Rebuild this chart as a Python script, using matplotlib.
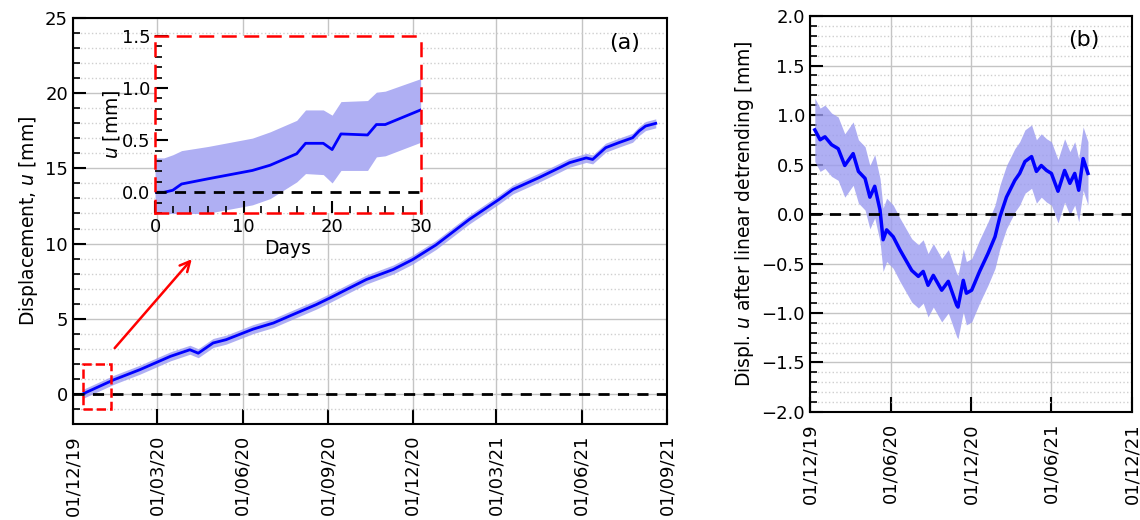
import numpy as np
import pandas as pd
import matplotlib
matplotlib.use('Agg')
import matplotlib.pyplot as plt
import matplotlib.dates as mdates
from matplotlib.patches import Rectangle
from matplotlib.ticker import MultipleLocator

############## data ########################################
# (a) cumulative displacement
a_dates = ['2019-12-12', '2020-01-14', '2020-02-11', '2020-03-15', '2020-04-05', '2020-04-14',
           '2020-04-30', '2020-05-14', '2020-06-12', '2020-07-04', '2020-07-25', '2020-08-19',
           '2020-09-03', '2020-09-24', '2020-10-12', '2020-11-10', '2020-12-01', '2020-12-26',
           '2021-01-31', '2021-03-04', '2021-03-19', '2021-04-16', '2021-05-08', '2021-05-19',
           '2021-06-06', '2021-06-13', '2021-06-27', '2021-07-11', '2021-07-26', '2021-08-02',
           '2021-08-09', '2021-08-20']
a_u = [0.0, 0.93, 1.6, 2.49, 2.93, 2.7, 3.38, 3.6, 4.3, 4.71, 5.27, 5.93, 6.38, 7.04, 7.6,
       8.27, 8.93, 9.9, 11.6, 12.93, 13.6, 14.38, 15.04, 15.38, 15.7, 15.6, 16.38, 16.71,
       17.04, 17.49, 17.82, 18.0]
a_err = [0.3] * len(a_u)

# inset: first 30 days
in_days = [0, 1, 2, 3, 6, 11, 13, 16, 17, 19, 20, 21, 24, 25, 26, 30]
in_u = [0.0, 0.0, 0.02, 0.08, 0.13, 0.21, 0.26, 0.37, 0.47, 0.47, 0.41, 0.56, 0.55, 0.65, 0.65, 0.79]
in_hi = [0.33, 0.33, 0.36, 0.40, 0.44, 0.52, 0.58, 0.69, 0.79, 0.79, 0.74, 0.87, 0.88, 0.96, 0.97, 1.09]
in_lo = [-0.30, -0.30, -0.28, -0.24, -0.20, -0.12, -0.06, 0.10, 0.18, 0.17, 0.09, 0.21, 0.21, 0.34, 0.35, 0.48]

# (b) after linear detrending
b_dates = ['2019-12-12', '2019-12-24', '2020-01-04', '2020-01-19', '2020-02-03', '2020-02-18',
           '2020-03-08', '2020-03-20', '2020-04-04', '2020-04-15', '2020-04-26', '2020-05-08',
           '2020-05-15', '2020-05-23', '2020-06-07', '2020-06-22', '2020-07-19', '2020-08-03',
           '2020-08-14', '2020-08-25', '2020-09-06', '2020-09-25', '2020-10-10', '2020-10-29',
           '2020-11-01', '2020-11-13', '2020-11-20', '2020-12-02', '2020-12-20', '2021-01-08',
           '2021-01-24', '2021-02-04', '2021-02-19', '2021-03-10', '2021-03-21', '2021-04-02',
           '2021-04-17', '2021-04-28', '2021-05-09', '2021-05-21', '2021-06-01', '2021-06-16',
           '2021-07-01', '2021-07-13', '2021-07-24', '2021-08-02', '2021-08-12', '2021-08-23']
b_u = [0.85, 0.75, 0.78, 0.70, 0.66, 0.49, 0.61, 0.43, 0.36, 0.17, 0.28, 0.04, -0.26, -0.16,
       -0.23, -0.36, -0.57, -0.63, -0.58, -0.72, -0.62, -0.77, -0.68, -0.92, -0.94, -0.67,
       -0.80, -0.77, -0.58, -0.40, -0.23, -0.03, 0.17, 0.34, 0.41, 0.53, 0.58, 0.43, 0.49,
       0.44, 0.41, 0.23, 0.44, 0.31, 0.41, 0.24, 0.56, 0.41]
b_err = [0.32] * len(b_u)

a_t = pd.to_datetime(a_dates)
b_t = pd.to_datetime(b_dates)
a_u = np.array(a_u); a_err = np.array(a_err)
b_u = np.array(b_u); b_err = np.array(b_err)

######################################################
plt.rcParams.update({'font.size': 13})
fig = plt.figure(figsize=(11.4, 5.2), dpi=100)
ax = fig.add_axes([0.064, 0.185, 0.521, 0.780])
bx = fig.add_axes([0.7105, 0.2077, 0.2825, 0.7615])

band = '#9b9bf0'


def style(a):
    for s in a.spines.values():
        s.set_linewidth(1.5)
    a.tick_params(which='major', direction='in', length=9, width=1.5, top=False, right=False)
    a.tick_params(which='minor', direction='in', length=5, width=1.2, top=False, right=False)
    a.tick_params(axis='x', which='major', length=11, labelrotation=90, pad=8)
    a.tick_params(axis='x', which='minor', length=0)
    a.grid(which='major', color='#c4c4c4', linestyle='-', linewidth=1.0)
    a.grid(which='minor', axis='y', color='#cfcfcf', linestyle=':', linewidth=1.0)
    a.set_axisbelow(True)


# ---------- (a)
style(ax)
ax.fill_between(a_t, a_u - a_err, a_u + a_err, color=band, alpha=0.8, lw=0)
ax.plot(a_t, a_u, color='blue', lw=2)
ax.axhline(0, color='black', ls='--', lw=2, dashes=(4, 3))
ax.set_xlim(pd.Timestamp('2019-12-01'), pd.Timestamp('2021-09-01'))
ax.set_ylim(-2, 25)
ax.yaxis.set_major_locator(MultipleLocator(5))
ax.yaxis.set_minor_locator(MultipleLocator(1))
ax.xaxis.set_major_locator(mdates.MonthLocator(bymonth=[3, 6, 9, 12]))
ax.xaxis.set_major_formatter(mdates.DateFormatter('%d/%m/%y'))
ax.set_ylabel('Displacement, $u$ [mm]', fontsize=13.5)
ax.text(0.955, 0.94, '(a)', transform=ax.transAxes, fontsize=16, ha='right', va='center')

t0 = a_t[0]
ax.add_patch(Rectangle((mdates.date2num(t0), -1), 30, 3, fill=False, edgecolor='red',
                       ls='--', lw=1.8, zorder=4))
ax.annotate('', xy=(pd.Timestamp('2020-04-09'), 9.1), xytext=(pd.Timestamp('2020-01-13'), 2.9),
            arrowprops=dict(arrowstyle='->', color='red', lw=1.8, mutation_scale=18))

# inset
ins = fig.add_axes([0.136, 0.590, 0.233, 0.341])
for s in ins.spines.values():
    s.set_color('red')
    s.set_linestyle((0, (5, 4)))
    s.set_linewidth(1.8)
ins.tick_params(which='major', direction='in', length=9, width=1.5, top=False, right=False)
ins.tick_params(which='minor', direction='in', length=5, width=1.2, top=False, right=False)
ins.fill_between(in_days, in_lo, in_hi, color=band, alpha=0.8, lw=0)
ins.plot(in_days, in_u, color='blue', lw=2)
ins.axhline(0, color='black', ls='--', lw=2, dashes=(4, 3))
ins.set_xlim(0, 30)
ins.set_ylim(-0.2, 1.5)
ins.xaxis.set_major_locator(MultipleLocator(10))
ins.xaxis.set_minor_locator(MultipleLocator(2))
ins.yaxis.set_major_locator(MultipleLocator(0.5))
ins.yaxis.set_minor_locator(MultipleLocator(0.1))
ins.set_xlabel('Days', labelpad=2, fontsize=13.5)
ins.set_ylabel('$u$ [mm]', labelpad=0, fontsize=13.5)

# ---------- (b)
style(bx)
bx.fill_between(b_t, b_u - b_err, b_u + b_err, color=band, alpha=0.8, lw=0)
bx.plot(b_t, b_u, color='blue', lw=2.5)
bx.axhline(0, color='black', ls='--', lw=2, dashes=(4, 3))
bx.set_xlim(pd.Timestamp('2019-12-01'), pd.Timestamp('2021-12-01'))
bx.set_ylim(-2, 2)
bx.yaxis.set_major_locator(MultipleLocator(0.5))
bx.yaxis.set_minor_locator(MultipleLocator(0.1))
bx.xaxis.set_major_locator(mdates.MonthLocator(bymonth=[6, 12]))
bx.xaxis.set_major_formatter(mdates.DateFormatter('%d/%m/%y'))
bx.set_ylabel('Displ. $u$ after linear detrending [mm]', fontsize=13.5)
bx.text(0.9, 0.94, '(b)', transform=bx.transAxes, fontsize=16, ha='right', va='center')

fig.savefig('out.png', dpi=100)
